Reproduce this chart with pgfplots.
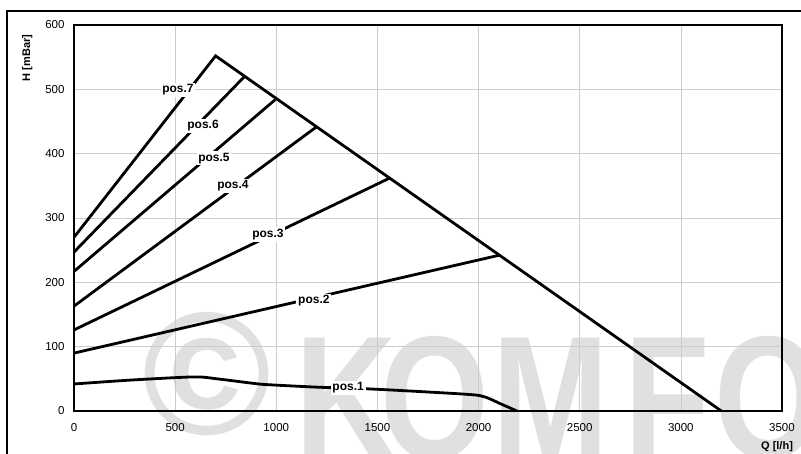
\documentclass[border=0pt]{standalone}
\usepackage{fontspec}
\setmainfont{Liberation Sans}
\usepackage{pgfplots}
\pgfplotsset{compat=1.18}
\definecolor{wmark}{gray}{0.88}
\definecolor{gridc}{gray}{0.80}
\pgfplotsset{pline/.style={black, solid, mark=none, line width=2.8pt, line join=miter}}

\begin{document}
\begin{tikzpicture}[x=1pt,y=1pt]
\useasboundingbox (0,0) rectangle (801,453);
\clip (0,0) rectangle (801,453);
% watermark behind the chart
\begin{scope}[wmark, font=\fontsize{175}{175}\selectfont\bfseries]
\node[inner sep=0, anchor=center] at (207,79) {©};
\node[inner sep=0, anchor=base west, xscale=0.8] at (295,-5) {K};
\node[inner sep=0, anchor=base west, xscale=0.8] at (380,-5) {O};
\node[inner sep=0, anchor=base west, xscale=0.8] at (492,-5) {M};
\node[inner sep=0, anchor=base west, xscale=0.8] at (624,-5) {F};
\node[inner sep=0, anchor=base west, xscale=0.8] at (714,-5) {O};
\end{scope}
% outer frame
\draw[line width=1.4pt] (7,-10) -- (7,442) -- (815,442);
\begin{axis}[
    at={(74pt,42pt)}, anchor=south west,
    scale only axis, width=708pt, height=386pt,
    xmin=0, xmax=3500, ymin=0, ymax=600,
    xtick={0,500,...,3500}, ytick={0,100,...,600},
    grid=major,
    major grid style={gridc, line width=0.7pt},
    axis line style={line width=2.4pt},
    major tick length=0pt,
    tick label style={font=\fontsize{11.5}{13}\selectfont},
    yticklabel style={xshift=-6pt},
    xticklabel style={yshift=-9pt},
    /pgf/number format/assume math mode=true,
    /pgf/number format/1000 sep={},
    xlabel={Q [l/h]}, ylabel={H [mBar]},
    label style={font=\fontsize{11}{13}\selectfont\bfseries},
    xlabel style={at={(axis description cs:0.993,-0.093)}, anchor=center},
    ylabel style={at={(axis description cs:-0.066,0.915)}, anchor=center},
]
% pos.7 and the limit line
\addplot[pline] coordinates {(0,270) (700,552) (3200,0)};
\addplot[pline] coordinates {(0,247) (840,519)};   % pos.6
\addplot[pline] coordinates {(0,217) (995,484)};   % pos.5
\addplot[pline] coordinates {(0,163) (1200,442)};  % pos.4
\addplot[pline] coordinates {(0,126) (1560,362)};  % pos.3
\addplot[pline] coordinates {(0,90) (2100,242)};   % pos.2
\addplot[pline, smooth, tension=0.45] coordinates {
    (0,42) (277,48) (593,53) (707,50) (886,43) (954,41) (1206,37)
    (1483,34) (1940,26) (2030,22) (2110,11) (2190,0)}; % pos.1
\begin{scope}[every node/.style={fill=white, inner sep=1.8pt,
        font=\fontsize{12}{14}\selectfont\bfseries}]
\node at (axis cs:514,499) {pos.7};
\node at (axis cs:638,443) {pos.6};
\node at (axis cs:692,393) {pos.5};
\node at (axis cs:786,350) {pos.4};
\node at (axis cs:959,274) {pos.3};
\node at (axis cs:1186,171) {pos.2};
\node at (axis cs:1355,36) {pos.1};
\end{scope}
\end{axis}
\end{tikzpicture}
\end{document}
